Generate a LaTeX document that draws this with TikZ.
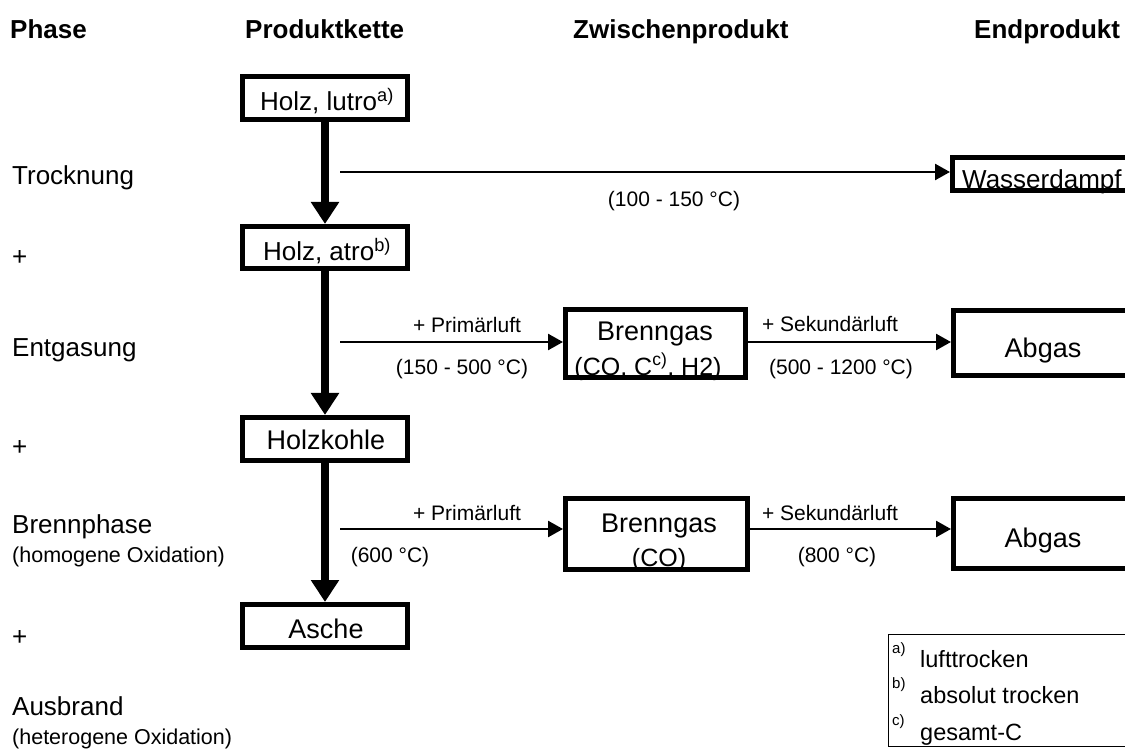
\documentclass[tikz,border=0pt]{standalone}
\usepackage{fontspec}
\setmainfont{Liberation Sans}
\usetikzlibrary{arrows.meta}
\begin{document}
\begin{tikzpicture}[x=1pt,y=-1pt,
  head/.style={font=\bfseries\fontsize{26}{30}\selectfont, anchor=base west, inner sep=0},
  phase/.style={font=\fontsize{26}{30}\selectfont, anchor=base west, inner sep=0},
  phasesmall/.style={font=\fontsize{21.5}{24}\selectfont, anchor=base west, inner sep=0},
  boxtxt/.style={font=\fontsize{27}{30}\selectfont, anchor=base, inner sep=0},
  lbl/.style={font=\fontsize{21}{24}\selectfont, anchor=base, inner sep=0},
  legtxt/.style={font=\fontsize{23.5}{26}\selectfont, anchor=base west, inner sep=0},
  legsup/.style={font=\fontsize{15}{16}\selectfont, anchor=base west, inner sep=0},
  thickbox/.style={draw, line width=5pt, inner sep=0},
  flow/.style={line width=8pt, -{Triangle[length=22pt,width=27pt]}},
  side/.style={line width=2.5pt, -{Triangle[length=15pt,width=16pt]}},
]
\useasboundingbox (0,0) rectangle (1125,751);
\clip (0,0) rectangle (1125,751);

% headings
\node[head] (h1) at (10,39) {Phase};
\node[head] (h2) at (245,39) {Produktkette};
\node[head] (h3) at (573,39) {Zwischenprodukt};
\node[head] (h4) at (974,39) {Endprodukt};

% phase column
\node[phase] (p1) at (12,185) {Trocknung};
\node[phase] (p2) at (12,266) {+};
\node[phase] (p3) at (12,356) {Entgasung};
\node[phase] (p4) at (12,455) {+};
\node[phase] (p5) at (12,533) {Brennphase};
\node[phasesmall] (p5b) at (12,562) {(homogene Oxidation)};
\node[phase] (p6) at (12,645) {+};
\node[phase] (p7) at (12,715) {Ausbrand};
\node[phasesmall] (p7b) at (12,744) {(heterogene Oxidation)};

% box texts
\node[boxtxt, font=\fontsize{26}{30}\selectfont] (t1) at (327,111) {Holz, lutro\textsuperscript{a)}};
\node[boxtxt, font=\fontsize{26}{30}\selectfont] (t2) at (327,261) {Holz, atro\textsuperscript{b)}};
\node[boxtxt] (t3) at (326,449) {Holzkohle};
\node[boxtxt] (t4) at (326,638) {Asche};
\node[boxtxt] (t5) at (655,341) {Brenngas};
\node[boxtxt, font=\fontsize{25}{30}\selectfont] (t5b) at (648,375) {(CO, C\textsuperscript{c)}, H2)};
\node[boxtxt] (t6) at (659,532) {Brenngas};
\node[boxtxt, font=\fontsize{25}{30}\selectfont] (t6b) at (659,566) {(CO)};
\node[boxtxt] (t7) at (1043,358) {Abgas};
\node[boxtxt] (t8) at (1043,547) {Abgas};
\node[boxtxt, font=\fontsize{26}{30}\selectfont, anchor=base west] (t9) at (962,189) {Wasserdampf};

% boxes
\node[thickbox, minimum width=165pt, minimum height=43pt] (b1) at (325,98) {};
\node[thickbox, minimum width=165pt, minimum height=42pt] (b2) at (325,247.5) {};
\node[thickbox, minimum width=165pt, minimum height=43pt] (b3) at (325,439) {};
\node[thickbox, minimum width=165pt, minimum height=43pt] (b4) at (325,626) {};
\node[thickbox, minimum width=180pt, minimum height=68pt] (g1) at (655.5,343.5) {};
\node[thickbox, minimum width=182pt, minimum height=71pt] (g2) at (656.5,534) {};
\node[thickbox, minimum width=184pt, minimum height=65pt] (a1) at (1045.5,343) {};
\node[thickbox, minimum width=184pt, minimum height=70pt] (a2) at (1045.5,533.5) {};
\node[thickbox, minimum width=185pt, minimum height=33pt] (w) at (1045,174) {};

% main chain
\draw[flow] (b1) -- (b2);
\draw[flow] (b2) -- (b3);
\draw[flow] (b3) -- (b4);

% side flows
\coordinate (s1) at (340,172);
\coordinate (s2) at (340,342);
\coordinate (s3) at (340,529);
\draw[side] (s1) -- (s1 -| w.west);
\draw[side] (s2) -- (s2 -| g1.west);
\draw[side] (g1.east |- s2) -- (s2 -| a1.west);
\draw[side] (s3) -- (s3 -| g2.west);
\draw[side] (g2.east |- s3) -- (s3 -| a2.west);

% arrow labels
\node[lbl] (l1) at (674,207) {(100 - 150 °C)};
\node[lbl] (l2) at (467,333) {+ Primärluft};
\node[lbl] (l3) at (462,374) {(150 - 500 °C)};
\node[lbl] (l4) at (830,332) {+ Sekundärluft};
\node[lbl] (l5) at (841,374) {(500 - 1200 °C)};
\node[lbl] (l6) at (467,520) {+ Primärluft};
\node[lbl] (l7) at (390,562) {(600 °C)};
\node[lbl] (l8) at (830,520) {+ Sekundärluft};
\node[lbl] (l9) at (837,562) {(800 °C)};

% legend
\node[draw, line width=1.5pt, inner sep=0, minimum width=247pt, minimum height=112pt] (leg) at (1012,690.5) {};
\node[legsup] (la) at (892,653) {a)};
\node[legsup] (lb) at (892,688) {b)};
\node[legsup] (lc) at (892,725) {c)};
\node[legtxt] (ta) at (920,667) {lufttrocken};
\node[legtxt] (tb) at (920,703) {absolut trocken};
\node[legtxt] (tc) at (920,740) {gesamt-C};
\end{tikzpicture}
\end{document}
